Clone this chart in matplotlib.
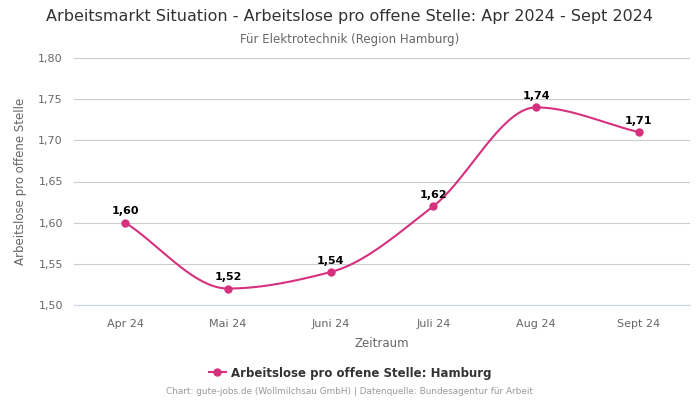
import numpy as np
import matplotlib
matplotlib.use("Agg")
import matplotlib.pyplot as plt

months = ["Apr 24", "Mai 24", "Juni 24", "Juli 24", "Aug 24", "Sept 24"]
values = [1.60, 1.52, 1.54, 1.62, 1.74, 1.71]
labels = ["1,60", "1,52", "1,54", "1,62", "1,74", "1,71"]
yticks = [1.50, 1.55, 1.60, 1.65, 1.70, 1.75, 1.80]

color = "#d6307e"


def smooth_line(x, y, n=40):
    # monotone cubic (Fritsch-Carlson) just for drawing the curve
    x = np.asarray(x, float)
    y = np.asarray(y, float)
    h = np.diff(x)
    d = np.diff(y) / h
    m = np.zeros_like(y)
    m[0], m[-1] = d[0], d[-1]
    for i in range(1, len(y) - 1):
        if d[i - 1] * d[i] <= 0:
            m[i] = 0
        else:
            m[i] = 2 / (1 / d[i - 1] + 1 / d[i])
    xs, ys = [], []
    for i in range(len(x) - 1):
        t = np.linspace(0, 1, n)
        h00 = 2 * t**3 - 3 * t**2 + 1
        h10 = t**3 - 2 * t**2 + t
        h01 = -2 * t**3 + 3 * t**2
        h11 = t**3 - t**2
        xs.append(x[i] + t * h[i])
        ys.append(h00 * y[i] + h10 * h[i] * m[i] + h01 * y[i + 1] + h11 * h[i] * m[i + 1])
    return np.concatenate(xs), np.concatenate(ys)


fig = plt.figure(figsize=(7, 4), dpi=100)
ax = fig.add_axes([74 / 700, 1 - 305 / 400, 616 / 700, 247 / 400])

x = np.arange(len(months))
sx, sy = smooth_line(x, values)
ax.plot(sx, sy, color=color, lw=1.5, zorder=3)
ax.plot(x, values, "o", color=color, ms=5, zorder=4)
ax.plot([], [], "-o", color=color, ms=5, lw=1.5, label="Arbeitslose pro offene Stelle: Hamburg")

for xi, v, lab in zip(x, values, labels):
    ax.annotate(lab, (xi, v), xytext=(0, 4.5), textcoords="offset points",
                ha="center", va="bottom", fontsize=8, fontweight="bold", color="black")

ax.set_xlim(-0.5, len(months) - 0.5)
ax.set_ylim(1.50, 1.80)
ax.set_yticks(yticks)
ax.set_yticklabels([f"{t:.2f}".replace(".", ",") for t in yticks])
ax.set_xticks(x)
ax.set_xticklabels(months)
ax.tick_params(axis="both", length=0, labelsize=8, labelcolor="#666666", pad=8)
ax.tick_params(axis="x", pad=10)
ax.grid(axis="y", color="#cccccc", lw=0.8)
ax.set_axisbelow(True)
for s in ["top", "right", "left"]:
    ax.spines[s].set_visible(False)
ax.spines["bottom"].set_color("#ccd6eb")

ax.set_ylabel("Arbeitslose pro offene Stelle", fontsize=8.5, color="#666666", labelpad=8)
ax.set_xlabel("Zeitraum", fontsize=8.5, color="#666666", labelpad=6)

fig.text(0.5, 1 - 17 / 400, "Arbeitsmarkt Situation - Arbeitslose pro offene Stelle: Apr 2024 - Sept 2024",
         ha="center", va="center", fontsize=11.5, color="#333333")
fig.text(0.5, 1 - 39 / 400, "Für Elektrotechnik (Region Hamburg)",
         ha="center", va="center", fontsize=8.5, color="#666666")

leg = fig.legend(loc="center", bbox_to_anchor=(0.5, 1 - 373 / 400), frameon=False,
                 prop={"size": 8.5, "weight": "bold"}, handlelength=1.5, handletextpad=0.4)
for t in leg.get_texts():
    t.set_color("#333333")

fig.text(0.5, 1 - 392 / 400, "Chart: gute-jobs.de (Wollmilchsau GmbH) | Datenquelle: Bundesagentur für Arbeit",
         ha="center", va="center", fontsize=6.4, color="#999999")

fig.savefig("out.png", dpi=100)
